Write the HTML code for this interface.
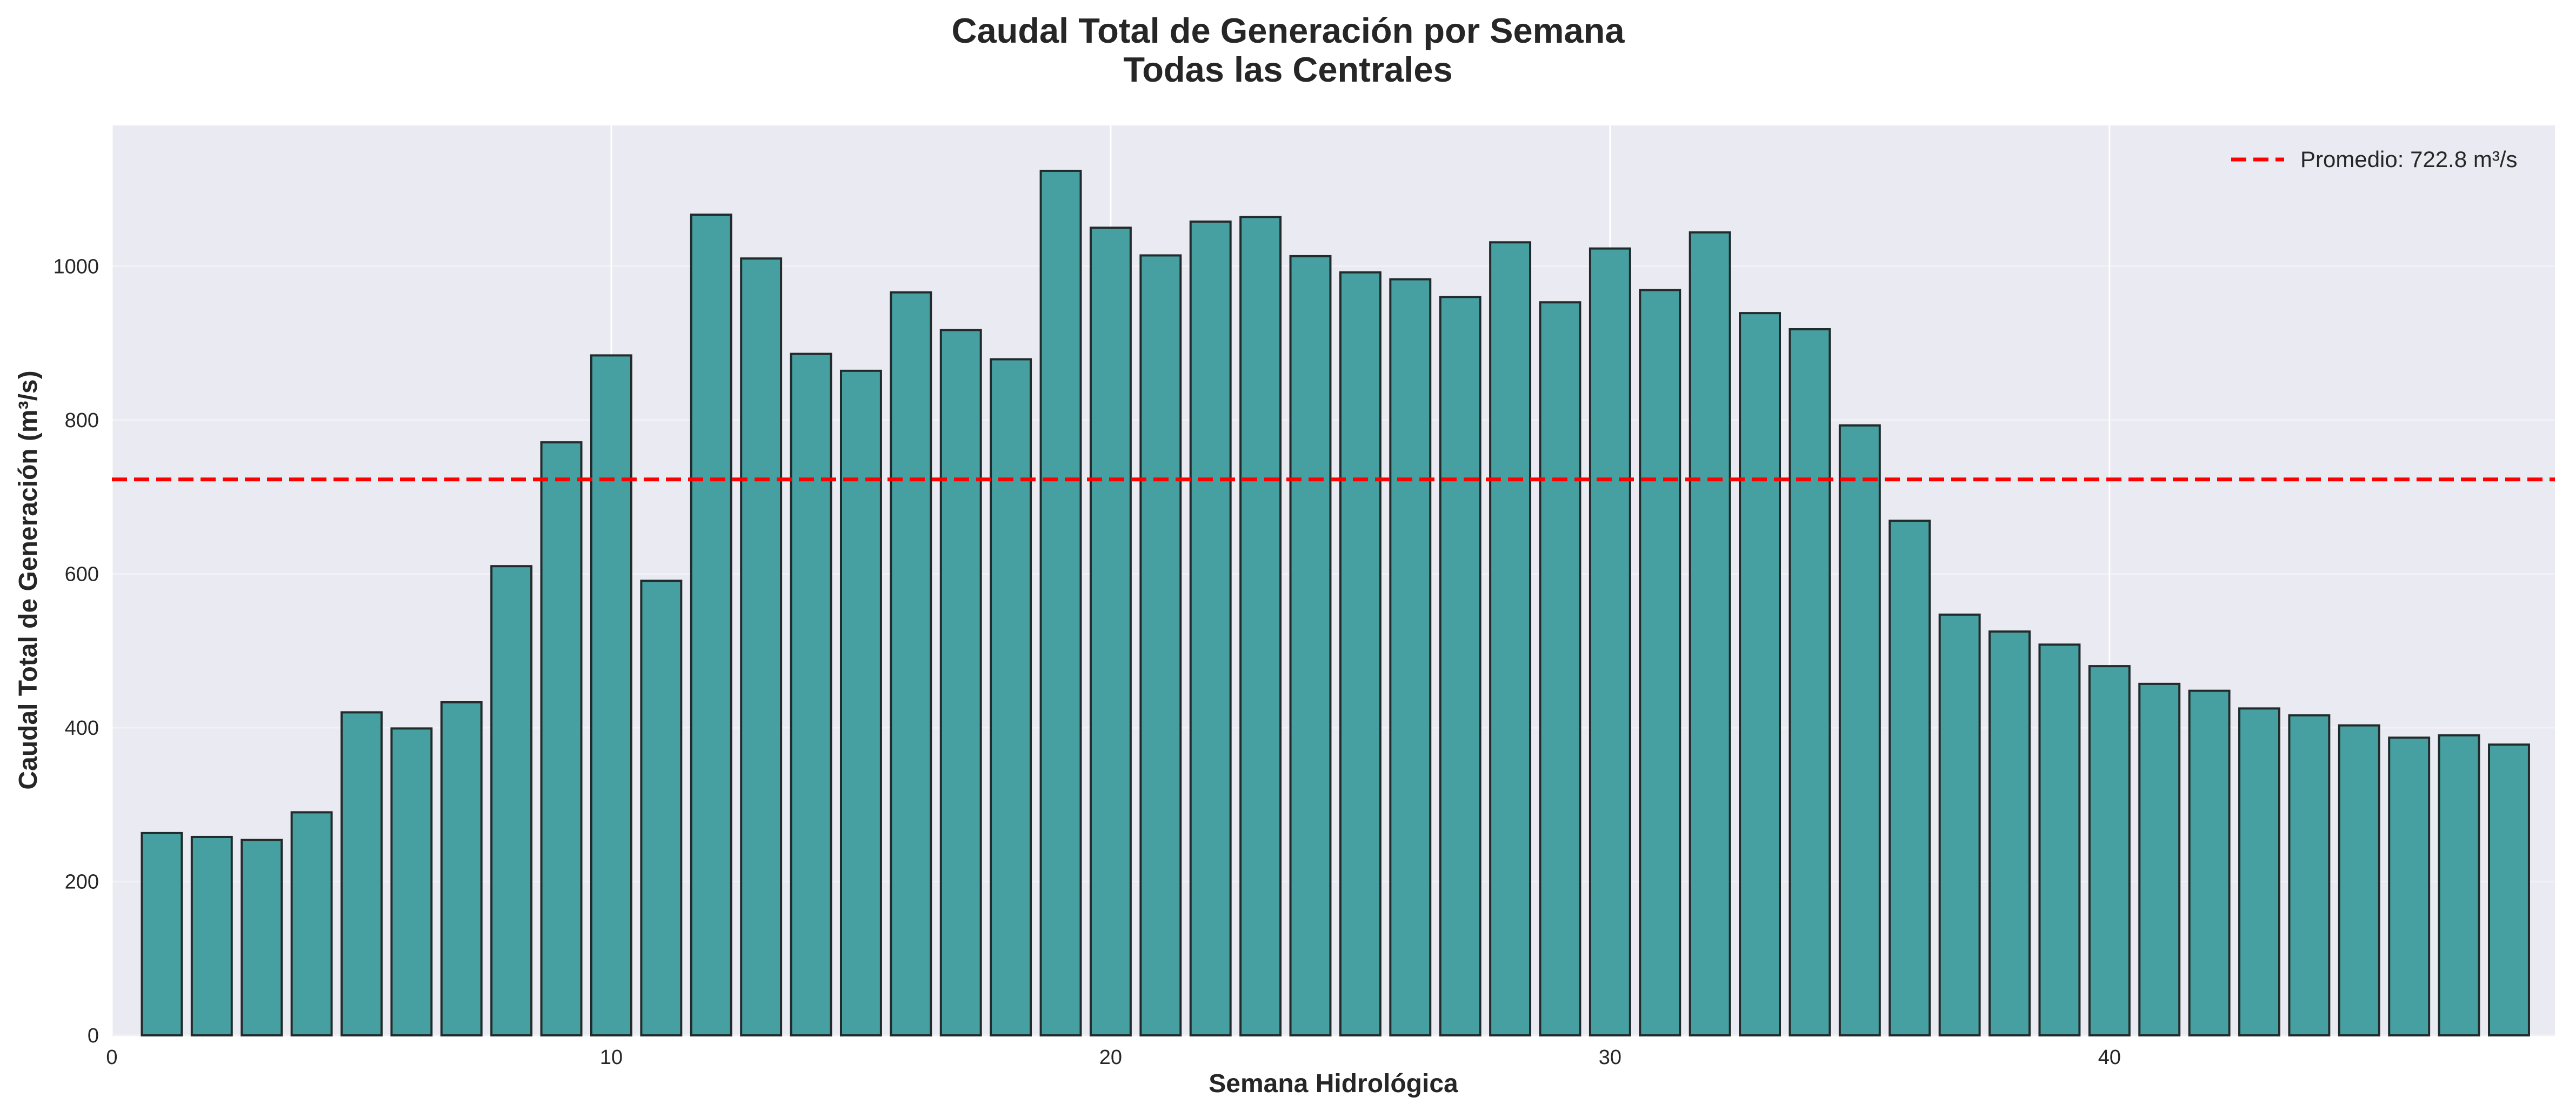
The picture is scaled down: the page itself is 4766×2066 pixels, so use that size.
<!DOCTYPE html>
<html><head><meta charset="utf-8"><style>
html,body{margin:0;padding:0;background:#fff;}
svg{display:block;font-family:"Liberation Sans",Arial,sans-serif;}
</style></head><body>
<svg id="chart" width="4766" height="2066" viewBox="0 0 4766 2066" xmlns="http://www.w3.org/2000/svg">
<rect x="0" y="0" width="4766" height="2066" fill="#fff"/>
<text x="2383" y="79" text-anchor="middle" font-size="65" font-weight="bold" fill="#262626">Caudal Total de Generación por Semana</text>
<text x="2383" y="151" text-anchor="middle" font-size="65" font-weight="bold" fill="#262626">Todas las Centrales</text>
<rect x="207" y="232" width="4520" height="1683" fill="#eaeaf2"/>
<g id="grid"></g>
<g id="bars"></g>
<g id="ticks"></g>
<line id="mean" stroke="#ff0000" stroke-width="7" stroke-dasharray="28,13"/>
<g>
<line x1="4128" y1="295" x2="4226" y2="295" stroke="#ff0000" stroke-width="7" stroke-dasharray="28,13"/>
<text x="4256" y="309" font-size="42" fill="#262626">Promedio: 722.8 m³/s</text>
</g>
<text x="2467" y="2020" text-anchor="middle" font-size="48" font-weight="bold" fill="#262626">Semana Hidrológica</text>
<text transform="translate(68,1073) rotate(-90)" text-anchor="middle" font-size="48" font-weight="bold" fill="#262626">Caudal Total de Generación (m³/s)</text>
</svg>
<script>
const weeks = [1,2,3,4,5,6,7,8,9,10,11,12,13,14,15,16,17,18,19,20,21,22,23,24,25,26,27,28,29,30,31,32,33,34,35,36,37,38,39,40,41,42,43,44,45,46,47,48];
const flows = [263,258,254,290,420,399,433,610,771,884,591,1067,1010,886,864,966,917,879,1124,1050,1014,1058,1064,1013,992,983,960,1031,953,1023,969,1044,939,918,793,669,547,525,508,480,457,448,425,416,403,387,390,378];
const meanValue = 722.8;
const xTicks = [0,10,20,30,40];
const yTicks = [0,200,400,600,800,1000];

const NS='http://www.w3.org/2000/svg';
const X0=207, X1=4727, Y0=1915, Y1=232;
const xMin=0, xMax=48.92, yMin=0, yMax=1183;
function xs(v){return X0+(v-xMin)/(xMax-xMin)*(X1-X0);}
function ys(v){return Y0-(v-yMin)/(yMax-yMin)*(Y0-Y1);}
function mk(tag,attrs,parent){const e=document.createElementNS(NS,tag);for(const k in attrs)e.setAttribute(k,attrs[k]);parent.appendChild(e);return e;}

const grid=document.getElementById('grid');
const ticks=document.getElementById('ticks');
yTicks.forEach(t=>{
  const l=mk('line',{x1:X0,x2:X1,y1:ys(t),y2:ys(t),stroke:'#f2f2f6','stroke-width':3},grid);
  
  
  const tx=mk('text',{x:X0-24,y:ys(t)+13,'text-anchor':'end','font-size':38,fill:'#262626'},ticks);
  tx.textContent=t;
  
  
});
xTicks.forEach(t=>{
  const l=mk('line',{x1:xs(t),x2:xs(t),y1:Y1,y2:Y0,stroke:'#ffffff','stroke-width':3},grid);
  
  
  const tx=mk('text',{x:xs(t),y:1968,'text-anchor':'middle','font-size':38,fill:'#262626'},ticks);
  tx.textContent=t;
  
  
});
const bars=document.getElementById('bars');
const bw=0.8;
weeks.forEach((w,i)=>{
  const x=xs(w-bw/2), x2=xs(w+bw/2), y=ys(flows[i]);
  const r=mk('rect',{x:x,y:y,width:x2-x,height:Y0-y,fill:'#46a0a2',stroke:'#222b2b','stroke-width':4},bars);
  
  
});
const m=document.getElementById('mean');
m.setAttribute('x1',X0);m.setAttribute('x2',X1);
m.setAttribute('y1',ys(meanValue));m.setAttribute('y2',ys(meanValue));
</script>
</body></html>
